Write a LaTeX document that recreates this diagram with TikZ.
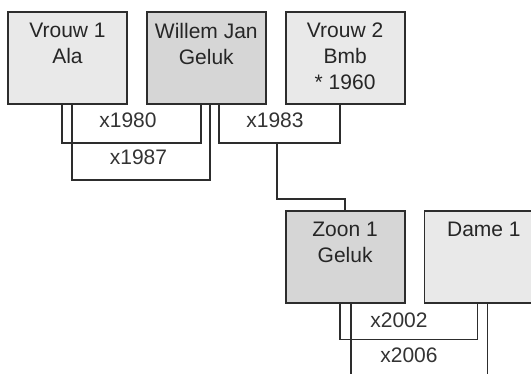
\documentclass[tikz,border=0pt]{standalone}
\usepackage{fontspec}
\setmainfont{Liberation Sans}
\usetikzlibrary{positioning}
\definecolor{boxlight}{RGB}{233,233,233}
\definecolor{boxdark}{RGB}{214,214,214}
\definecolor{edge}{RGB}{45,45,45}
\begin{document}
\begin{tikzpicture}[x=1pt,y=-1pt,
  pbox/.style={draw=edge,line width=1.8pt,minimum width=119pt,minimum height=92pt,inner sep=0pt},
  ptext/.style={anchor=north,inner sep=0pt,align=center,text=black!85,font=\fontsize{21}{26}\selectfont},
  wed/.style={inner sep=0pt,text=black!80,font=\fontsize{21}{24}\selectfont},
  link/.style={draw=edge,line width=1.6pt}]
\useasboundingbox (0,0) rectangle (531,374);
\node[pbox,fill=boxlight] (v1) at (67.5,58) {};
\node[pbox,fill=boxdark,right=18pt of v1] (wj) {};
\node[pbox,fill=boxlight,right=18pt of wj] (v2) {};
\node[pbox,fill=boxdark,below=105pt of v2] (z1) {};
\node[pbox,fill=boxlight,right=18pt of z1] (d1) {};
\node[ptext] (v1t) at ([yshift=-12pt]v1.north) {Vrouw 1\\Ala};
\node[ptext] (wjt) at ([yshift=-12pt]wj.north) {Willem Jan\\Geluk};
\node[ptext] (v2t) at ([yshift=-12pt]v2.north) {Vrouw 2\\Bmb\\* 1960};
\node[ptext] (z1t) at ([yshift=-12pt]z1.north) {Zoon 1\\Geluk};
\node[ptext] (d1t) at ([yshift=-12pt]d1.north) {Dame 1};
\draw[link] ([xshift=55pt]v1.south west) -- ++(0,38) -| ([xshift=55pt]wj.south west);
\draw[link] ([xshift=65pt]v1.south west) -- ++(0,75) -| ([xshift=64pt]wj.south west);
\draw[link] ([xshift=73pt]wj.south west) -- ++(0,38) -| ([xshift=55pt]v2.south west);
\coordinate (m83) at (277,142);
\draw[link] (m83) -- ++(0,57) -| (z1.north);
\draw[link] ([xshift=55pt]z1.south west) -- ++(0,36) -| ([xshift=54pt]d1.south west);
\draw[link] ([xshift=66pt]z1.south west) -- ++(0,80);
\draw[link] ([xshift=64pt]d1.south west) -- ++(0,80);
\node[wed] (w80) at (128,120) {x1980};
\node[wed] (w87) at (138.5,157) {x1987};
\node[wed] (w83) at (275,120) {x1983};
\node[wed] (w02) at (399,320) {x2002};
\node[wed] (w06) at (409,355) {x2006};
\end{tikzpicture}
\end{document}
